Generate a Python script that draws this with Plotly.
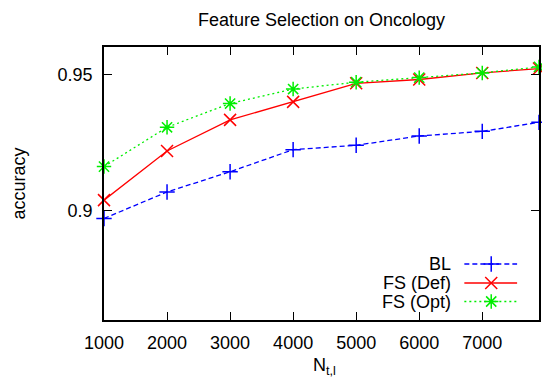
import plotly.graph_objects as go

# Training-set size (N_t,l) and accuracy per method
n_train = [1000, 2000, 3000, 4000, 5000, 6000, 7000, 7900]
acc_bl = [0.8972, 0.9069, 0.9143, 0.9224, 0.9240, 0.9274, 0.9291, 0.9324]
acc_fs_def = [0.9039, 0.9219, 0.9333, 0.9399, 0.9467, 0.9481, 0.9505, 0.9521]
acc_fs_opt = [0.9162, 0.9306, 0.9393, 0.9446, 0.9471, 0.9488, 0.9505, 0.9527]

series_names = ["BL", "FS (Def)", "FS (Opt)"]
x_ticks = [1000, 2000, 3000, 4000, 5000, 6000, 7000]
y_ticks = [0.9, 0.95]
y_tick_text = ["0.9", "0.95"]

FONT = "Liberation Sans, Arial, sans-serif"
W, H = 542, 377
L, R, T, B = 104, 1, 47, 57

styles = [
    dict(color="#0000ff", dash="5px,3px", symbol="cross-thin-open", size=11),
    dict(color="#ff0000", dash="solid", symbol="x-thin-open", size=12),
    dict(color="#00ee00", dash="2px,3px", symbol="asterisk-open", size=12),
]


def marker_style(st):
    return dict(symbol=st["symbol"], size=st["size"], color=st["color"],
                line=dict(color=st["color"], width=1.5))


fig = go.Figure()
for name, ys, st in zip(series_names, [acc_bl, acc_fs_def, acc_fs_opt], styles):
    fig.add_trace(go.Scatter(
        x=n_train, y=ys, name=name, mode="lines+markers",
        line=dict(color=st["color"], width=1.3, dash=st["dash"]),
        marker=marker_style(st),
        cliponaxis=False, showlegend=False,
    ))

# Key drawn on an overlay axis measured in figure pixels (text left of the sample)
key_rows = [264, 283, 301.5]
for name, yk, st in zip(series_names, key_rows, styles):
    fig.add_trace(go.Scatter(
        x=[466, 519], y=[yk, yk], mode="lines", xaxis="x2", yaxis="y2",
        line=dict(color=st["color"], width=1.3, dash=st["dash"]),
        showlegend=False, hoverinfo="skip", cliponaxis=False,
    ))
    fig.add_trace(go.Scatter(
        x=[493], y=[yk], mode="markers", xaxis="x2", yaxis="y2",
        marker=marker_style(st),
        showlegend=False, hoverinfo="skip", cliponaxis=False,
    ))
    fig.add_annotation(x=455, y=yk, xref="x2", yref="y2", text=name,
                       showarrow=False, xanchor="right", yanchor="middle",
                       font=dict(family=FONT, size=18, color="black"))

axis_common = dict(
    showline=True, linecolor="black", linewidth=1.5, mirror="ticks",
    ticks="inside", ticklen=8, tickwidth=1.2, tickcolor="black",
    showgrid=False, zeroline=False,
    tickfont=dict(family=FONT, size=18, color="black"),
)

fig.update_layout(
    width=W, height=H,
    margin=dict(l=L, r=R, t=T, b=B, pad=0),
    paper_bgcolor="white", plot_bgcolor="white",
    title=dict(text="Feature Selection on Oncology", x=0.5, xref="paper",
               y=1 - 20 / H, yref="container", yanchor="middle",
               font=dict(family=FONT, size=18, color="black")),
    xaxis=dict(range=[1000, 7900], tickvals=x_ticks, ticklabelstandoff=6,
               **axis_common),
    yaxis=dict(range=[0.86, 0.96], tickvals=y_ticks, ticktext=y_tick_text,
               ticklabelstandoff=6, **axis_common),
    xaxis2=dict(range=[L, W - R], overlaying="x", visible=False, fixedrange=True),
    yaxis2=dict(range=[H - B, T], overlaying="y", visible=False, fixedrange=True),
    annotations=list(fig.layout.annotations) + [
        dict(text="accuracy", textangle=-90, xref="paper", yref="paper",
             x=0, y=0.5, xshift=-86, xanchor="center", yanchor="middle",
             showarrow=False, font=dict(family=FONT, size=18, color="black")),
        dict(text="N<sub>t,l</sub>", xref="paper", yref="paper",
             x=0.5, y=0, xshift=3, yshift=-33, xanchor="center", yanchor="top",
             showarrow=False, font=dict(family=FONT, size=18, color="black")),
    ],
)

fig.write_html("out.html")
